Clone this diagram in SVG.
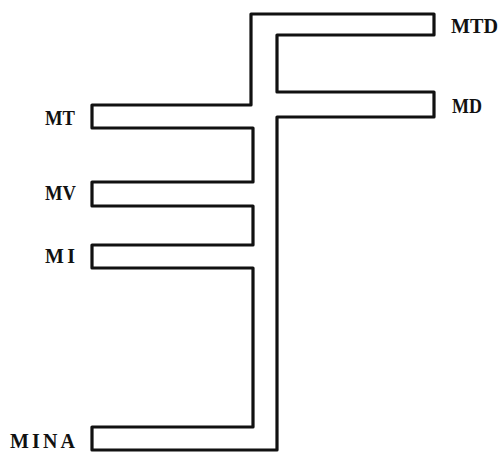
<svg xmlns="http://www.w3.org/2000/svg" width="501" height="457" viewBox="0 0 501 457">
<style>
.lbl{font-family:"Liberation Serif","DejaVu Serif",serif;font-weight:bold;font-size:20px;fill:#111}
.outline{fill:none;stroke:#111;stroke-width:3.2;stroke-linejoin:round}
</style>
<rect width="501" height="457" fill="#fff"/>
<g id="connectors">
<path class="outline" d="M251,14 L434,14 L434,35 L277,35 L277,92 L434,92 L434,117 L277,117 L277,450 L92,450 L92,427 L253,427 L253,268 L92,268 L92,245 L253,245 L253,206 L92,206 L92,182 L253,182 L253,128 L92,128 L92,105 L251,105 Z"/>
</g>
<g id="node-MTD"><text class="lbl" x="451" y="33" textLength="47" lengthAdjust="spacingAndGlyphs">MTD</text></g>
<g id="node-MD"><text class="lbl" x="452" y="113" textLength="30" lengthAdjust="spacingAndGlyphs">MD</text></g>
<g id="node-MT"><text class="lbl" x="45" y="125" textLength="30" lengthAdjust="spacingAndGlyphs">MT</text></g>
<g id="node-MV"><text class="lbl" x="45" y="200" textLength="31" lengthAdjust="spacingAndGlyphs">MV</text></g>
<g id="node-MI"><text class="lbl" x="45" y="263" textLength="30" lengthAdjust="spacing">MI</text></g>
<g id="node-MINA"><text class="lbl" x="10" y="448" textLength="65" lengthAdjust="spacing">MINA</text></g>
</svg>
